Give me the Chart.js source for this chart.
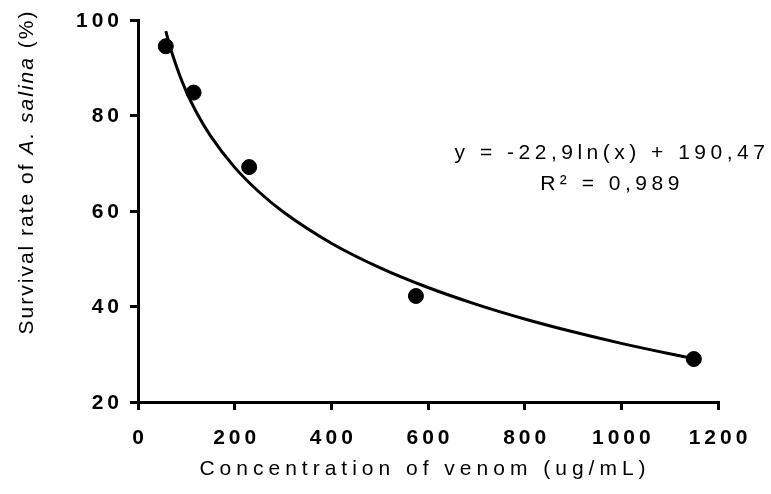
<!DOCTYPE html>
<html>
<head>
<meta charset="utf-8">
<script src="https://cdn.jsdelivr.net/npm/chart.js@4.4.0/dist/chart.umd.min.js"></script>
<style>
  html, body { margin: 0; padding: 0; background: #fff; }
  #chart { display: block; }
</style>
</head>
<body>
<canvas id="chart" width="771" height="494"></canvas>
<script>
// measured points
const concentrations = [57.5, 115, 230, 575, 1150];
const survival = [94.5, 84.8, 69.2, 42.2, 29.0];

// logarithmic trend line
const fitX = [57.5, 65, 70, 85, 100, 120, 150, 200, 250, 300, 400, 500, 600, 700, 800, 900, 1000, 1100, 1150];
const fitY = [97.68, 94.88, 93.18, 88.73, 85.01, 80.84, 75.73, 69.14, 64.03, 59.85, 53.26, 48.15, 43.98, 40.45, 37.39, 34.70, 32.28, 30.10, 29.08];

const xTicks = [0, 200, 400, 600, 800, 1000, 1200];
const yTicks = [20, 40, 60, 80, 100];

const equationText = 'y = -22,9ln(x) + 190,47';
const r2Text = 'R² = 0,989';

const FONT = '"Liberation Sans", Arial, sans-serif';

// draws tick labels, axis titles and the equation with letter spacing
const textPlugin = {
  id: 'textPlugin',
  afterDraw(chart) {
    const ctx = chart.ctx;
    const xs = chart.scales.x, ys = chart.scales.y;
    ctx.save();
    ctx.fillStyle = '#000';

    // tick labels
    ctx.font = 'bold 21px ' + FONT;
    ctx.letterSpacing = '4px';
    ctx.textBaseline = 'middle';
    ctx.textAlign = 'center';
    xTicks.forEach(v => {
      ctx.fillText(String(v), xs.getPixelForValue(v) + 2, 438);
    });
    ctx.textAlign = 'right';
    yTicks.forEach(v => {
      ctx.fillText(String(v), 123, ys.getPixelForValue(v) + 1);
    });

    // x title
    ctx.font = '21px ' + FONT;
    ctx.letterSpacing = '5px';
    ctx.textAlign = 'center';
    ctx.fillText('Concentration of venom (ug/mL)', 425, 469);

    // equation
    ctx.letterSpacing = '4.5px';
    ctx.fillText(equationText, 612, 153);
    ctx.fillText(r2Text, 612, 184);

    // y title, with italic species name
    ctx.translate(27, 172);
    ctx.rotate(-Math.PI / 2);
    ctx.letterSpacing = '2px';
    const parts = [
      ['Survival rate of ', '21px ' + FONT],
      ['A. salina', 'italic 21px ' + FONT],
      [' (%)', '21px ' + FONT]
    ];
    let total = 0;
    parts.forEach(p => { ctx.font = p[1]; total += ctx.measureText(p[0]).width; });
    let x = -total / 2;
    ctx.textAlign = 'left';
    parts.forEach(p => {
      ctx.font = p[1];
      ctx.fillText(p[0], x, 0);
      x += ctx.measureText(p[0]).width;
    });
    ctx.restore();
  }
};

const axisBase = {
  type: 'linear',
  ticks: { display: false },
  grid: { drawOnChartArea: false, drawTicks: true, tickLength: 8, color: '#000', lineWidth: 3 },
  border: { display: true, color: '#000', width: 3 }
};

new Chart(document.getElementById('chart'), {
  type: 'scatter',
  data: {
    datasets: [
      {
        label: 'Fit',
        type: 'line',
        data: fitX.map((x, i) => ({ x: x, y: fitY[i] })),
        borderColor: '#000',
        borderWidth: 3,
        pointRadius: 0,
        cubicInterpolationMode: 'monotone',
        fill: false
      },
      {
        label: 'Survival',
        data: concentrations.map((x, i) => ({ x: x, y: survival[i] })),
        backgroundColor: '#000',
        borderColor: '#000',
        pointRadius: 7.5,
        pointHoverRadius: 7.5
      }
    ]
  },
  options: {
    responsive: false,
    animation: false,
    devicePixelRatio: 1,
    layout: { padding: { left: 128, right: 53, top: 20, bottom: 82 } },
    plugins: {
      legend: { display: false },
      tooltip: { enabled: false }
    },
    scales: {
      x: Object.assign({}, axisBase, {
        min: 0, max: 1200,
        ticks: { display: false, stepSize: 200 },
        afterFit: s => { s.height = 10; }
      }),
      y: Object.assign({}, axisBase, {
        min: 20, max: 100,
        ticks: { display: false, stepSize: 20 },
        afterFit: s => { s.width = 10; }
      })
    }
  },
  plugins: [textPlugin]
});
</script>
</body>
</html>
